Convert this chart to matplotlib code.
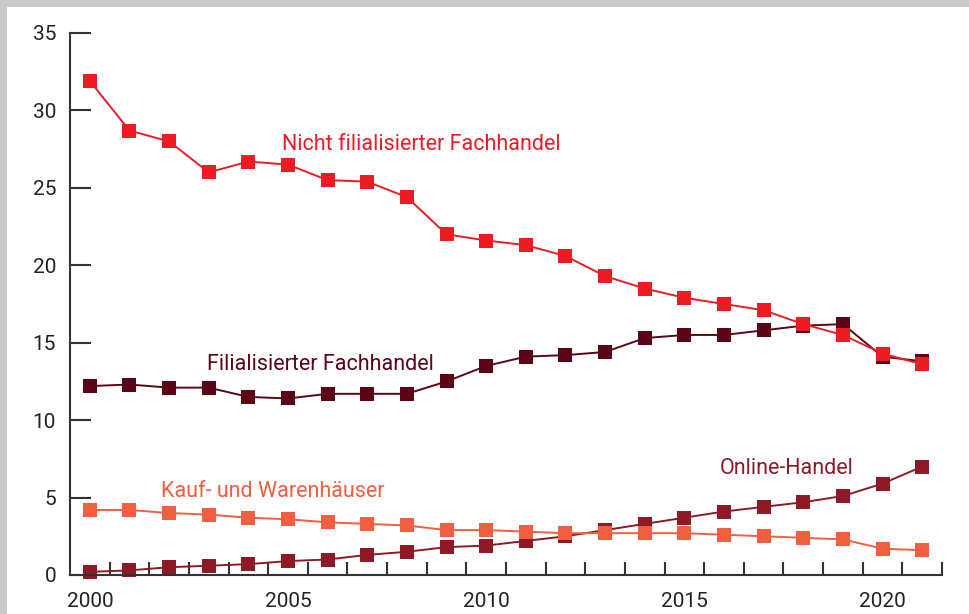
"""
Marktanteile im Einzelhandel 2000-2021
"""

import matplotlib

matplotlib.use("Agg")
import matplotlib.pyplot as plt
from matplotlib.patches import Rectangle
from matplotlib.ticker import FixedLocator

plt.rcParams["font.family"] = ["Roboto", "DejaVu Sans"]

years = list(range(2000, 2022))

nicht_filialisiert = [31.9, 28.7, 28.0, 26.0, 26.7, 26.5, 25.5, 25.4, 24.4, 22.0, 21.6,
                      21.3, 20.6, 19.3, 18.5, 17.9, 17.5, 17.1, 16.2, 15.5, 14.3, 13.6]
filialisiert = [12.2, 12.3, 12.1, 12.1, 11.5, 11.4, 11.7, 11.7, 11.7, 12.5, 13.5,
                14.1, 14.2, 14.4, 15.3, 15.5, 15.5, 15.8, 16.1, 16.2, 14.1, 13.8]
kaufhaeuser = [4.2, 4.2, 4.0, 3.9, 3.7, 3.6, 3.4, 3.3, 3.2, 2.9, 2.9,
               2.8, 2.7, 2.7, 2.7, 2.7, 2.6, 2.5, 2.4, 2.3, 1.7, 1.6]
online = [0.2, 0.3, 0.5, 0.6, 0.7, 0.9, 1.0, 1.3, 1.5, 1.8, 1.9,
          2.2, 2.5, 2.9, 3.3, 3.7, 4.1, 4.4, 4.7, 5.1, 5.9, 7.0]

colours = {
    "nicht": "#ED1C24",
    "filial": "#5A0616",
    "kauf": "#F15E40",
    "online": "#8E1A28",
}

fig = plt.figure(figsize=(9.7, 6.14), dpi=100, facecolor="#C8C9CB")
# white panel inside the grey frame (top and left)
fig.patches.append(Rectangle((7 / 970, 0), 1, 1 - 7 / 614, transform=fig.transFigure,
                             facecolor="white", edgecolor="none", zorder=-10))

ax = fig.add_axes([70 / 970, 1 - 575 / 614, 872 / 970, (575 - 33) / 614])
ax.set_facecolor("none")

series = [
    (online, colours["online"]),
    (kaufhaeuser, colours["kauf"]),
    (filialisiert, colours["filial"]),
    (nicht_filialisiert, colours["nicht"]),
]
for values, c in series:
    ax.plot(years, values, "s-", color=c, lw=1.4, ms=9.8, mew=0, clip_on=False)

# series labels
label_size = 15.5
ax.text(2004.85, 27.8, "Nicht filialisierter Fachhandel", color=colours["nicht"],
        fontsize=label_size, va="center", ha="left")
ax.text(2002.95, 13.6, "Filialisierter Fachhandel", color=colours["filial"],
        fontsize=label_size, va="center", ha="left")
ax.text(2001.8, 5.4, "Kauf- und Warenhäuser", color=colours["kauf"],
        fontsize=label_size, va="center", ha="left")
ax.text(2015.9, 6.85, "Online-Handel", color=colours["online"],
        fontsize=label_size, va="center", ha="left")

# Format the axes
ax.set_xlim(1999.5, 2021.5)
ax.set_ylim(0, 35)
for side in ["top", "right"]:
    ax.spines[side].set_visible(False)
for side in ["left", "bottom"]:
    ax.spines[side].set_color("#333333")
    ax.spines[side].set_linewidth(1.5)

ax.set_yticks(range(0, 36, 5))
ax.tick_params(axis="y", direction="in", length=15, width=1.5, color="#333333",
               pad=10, labelsize=15, labelcolor="#222222")

ax.set_xticks([2000, 2005, 2010, 2015, 2020])
ax.xaxis.set_minor_locator(FixedLocator([y + 0.5 for y in years]))
ax.tick_params(axis="x", which="major", length=0, pad=12, labelsize=15,
               labelcolor="#222222")
ax.tick_params(axis="x", which="minor", direction="in", length=9.5, width=1.5,
               color="#333333")

fig.savefig("out.png", dpi=100, facecolor=fig.get_facecolor())
